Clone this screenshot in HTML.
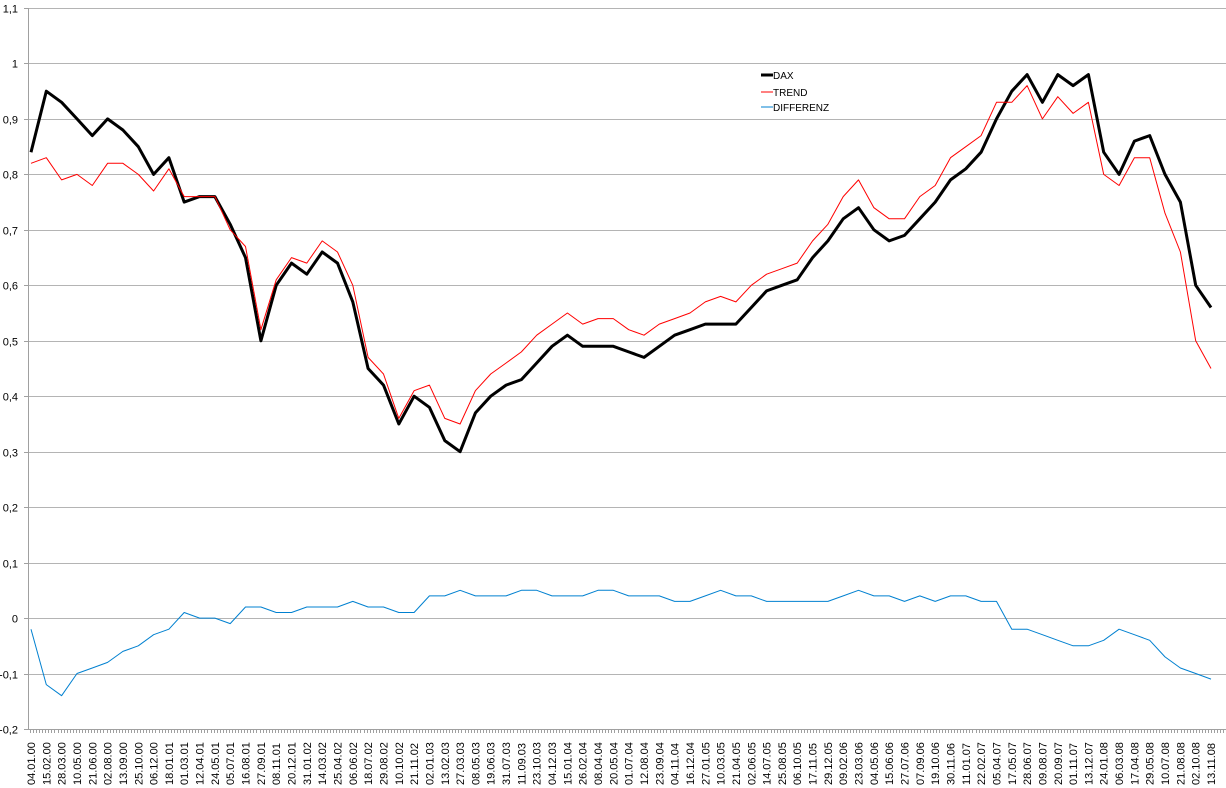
<!DOCTYPE html>
<html><head><meta charset="utf-8"><style>
html,body{margin:0;padding:0;background:#fff;}
svg{display:block;font-family:"Liberation Sans",sans-serif;}
</style></head><body>
<svg id="chart" width="1226" height="788" viewBox="0 0 1226 788" xmlns="http://www.w3.org/2000/svg">
<g id="grid"></g>
<g id="yaxis"></g>
<g id="xaxis"></g>
<g id="series"></g>
<g font-size="10">
  <g><line x1="761" y1="75" x2="773" y2="75" stroke="#000" stroke-width="3"/><text x="773" y="79">DAX</text></g>
  <g><line x1="761" y1="92" x2="773" y2="92" stroke="#ff0000" stroke-width="1"/><text x="773" y="96">TREND</text></g>
  <g><line x1="761" y1="107" x2="773" y2="107" stroke="#0080d0" stroke-width="1"/><text x="773" y="111">DIFFERENZ</text></g>
</g>
</svg>
<script>
const dates = ["04.01.00","15.02.00","28.03.00","10.05.00","21.06.00","02.08.00","13.09.00","25.10.00","06.12.00","18.01.01","01.03.01","12.04.01","24.05.01","05.07.01","16.08.01","27.09.01","08.11.01","20.12.01","31.01.02","14.03.02","25.04.02","06.06.02","18.07.02","29.08.02","10.10.02","21.11.02","02.01.03","13.02.03","27.03.03","08.05.03","19.06.03","31.07.03","11.09.03","23.10.03","04.12.03","15.01.04","26.02.04","08.04.04","20.05.04","01.07.04","12.08.04","23.09.04","04.11.04","16.12.04","27.01.05","10.03.05","21.04.05","02.06.05","14.07.05","25.08.05","06.10.05","17.11.05","29.12.05","09.02.06","23.03.06","04.05.06","15.06.06","27.07.06","07.09.06","19.10.06","30.11.06","11.01.07","22.02.07","05.04.07","17.05.07","28.06.07","09.08.07","20.09.07","01.11.07","13.12.07","24.01.08","06.03.08","17.04.08","29.05.08","10.07.08","21.08.08","02.10.08","13.11.08"];
const daxValues = [0.84,0.95,0.93,0.90,0.87,0.90,0.88,0.85,0.80,0.83,0.75,0.76,0.76,0.71,0.65,0.50,0.60,0.64,0.62,0.66,0.64,0.57,0.45,0.42,0.35,0.40,0.38,0.32,0.30,0.37,0.40,0.42,0.43,0.46,0.49,0.51,0.49,0.49,0.49,0.48,0.47,0.49,0.51,0.52,0.53,0.53,0.53,0.56,0.59,0.60,0.61,0.65,0.68,0.72,0.74,0.70,0.68,0.69,0.72,0.75,0.79,0.81,0.84,0.90,0.95,0.98,0.93,0.98,0.96,0.98,0.84,0.80,0.86,0.87,0.80,0.75,0.60,0.56];
const trendValues = [0.82,0.83,0.79,0.80,0.78,0.82,0.82,0.80,0.77,0.81,0.76,0.76,0.76,0.70,0.67,0.52,0.61,0.65,0.64,0.68,0.66,0.60,0.47,0.44,0.36,0.41,0.42,0.36,0.35,0.41,0.44,0.46,0.48,0.51,0.53,0.55,0.53,0.54,0.54,0.52,0.51,0.53,0.54,0.55,0.57,0.58,0.57,0.60,0.62,0.63,0.64,0.68,0.71,0.76,0.79,0.74,0.72,0.72,0.76,0.78,0.83,0.85,0.87,0.93,0.93,0.96,0.90,0.94,0.91,0.93,0.80,0.78,0.83,0.83,0.73,0.66,0.50,0.45];
const diffValues = [-0.02,-0.12,-0.14,-0.10,-0.09,-0.08,-0.06,-0.05,-0.03,-0.02,0.01,0.00,0.00,-0.01,0.02,0.02,0.01,0.01,0.02,0.02,0.02,0.03,0.02,0.02,0.01,0.01,0.04,0.04,0.05,0.04,0.04,0.04,0.05,0.05,0.04,0.04,0.04,0.05,0.05,0.04,0.04,0.04,0.03,0.03,0.04,0.05,0.04,0.04,0.03,0.03,0.03,0.03,0.03,0.04,0.05,0.04,0.04,0.03,0.04,0.03,0.04,0.04,0.03,0.03,-0.02,-0.02,-0.03,-0.04,-0.05,-0.05,-0.04,-0.02,-0.03,-0.04,-0.07,-0.09,-0.10,-0.11];
const yTicks = [1.1,1.0,0.9,0.8,0.7,0.6,0.5,0.4,0.3,0.2,0.1,0,-0.1,-0.2];

const NS="http://www.w3.org/2000/svg";
const X0=31, X1=1211, AXL=28, Y11=8, YM2=729;
function xScale(i){return X0+(X1-X0)*i/(dates.length-1);}
function yScale(v){return Y11+(1.1-v)*(YM2-Y11)/1.3;}
function mk(tag,attrs,parent){const e=document.createElementNS(NS,tag);for(const k in attrs)e.setAttribute(k,attrs[k]);parent.appendChild(e);return e;}
const grid=document.getElementById('grid'),ya=document.getElementById('yaxis'),xa=document.getElementById('xaxis'),ser=document.getElementById('series');
yTicks.forEach(v=>{
  const y=Math.round(yScale(v))+0.5;
  const l=mk('line',{x1:AXL,x2:1226,y1:y,y2:y,stroke:'#b4b4b4','stroke-width':1},grid);
  
  
  mk('line',{x1:AXL-4,x2:AXL,y1:y,y2:y,stroke:'#a0a0a0'},ya);
  const t=mk('text',{x:18,y:y+4,'text-anchor':'end','font-size':11},ya);
  t.textContent=String(v).replace('.',',');
  
  
});
mk('line',{x1:AXL+0.5,x2:AXL+0.5,y1:Y11,y2:YM2,stroke:'#a0a0a0'},ya);
mk('line',{x1:AXL,x2:1226,y1:YM2+0.5,y2:YM2+0.5,stroke:'#a0a0a0'},xa);
for(let x=AXL+2;x<1226;x+=3.06){mk('line',{x1:Math.round(x)+0.5,x2:Math.round(x)+0.5,y1:YM2,y2:YM2+4,stroke:'#a0a0a0'},xa);}
dates.forEach((d,i)=>{
  const x=xScale(i);
  const t=mk('text',{transform:`translate(${x+4},785) rotate(-90)`,'font-size':11},xa);
  t.textContent=d;
  
  
});
function line(vals,color,w,name){
  const p=mk('polyline',{points:vals.map((v,i)=>xScale(i).toFixed(1)+','+yScale(v).toFixed(1)).join(' '),fill:'none',stroke:color,'stroke-width':w,'stroke-linejoin':'round'},ser);
  
  
}
line(daxValues,'#000',3,'dax-line');
line(trendValues,'#ff0000',1,'trend-line');
line(diffValues,'#0080d0',1,'differenz-line');
</script>
</body></html>
